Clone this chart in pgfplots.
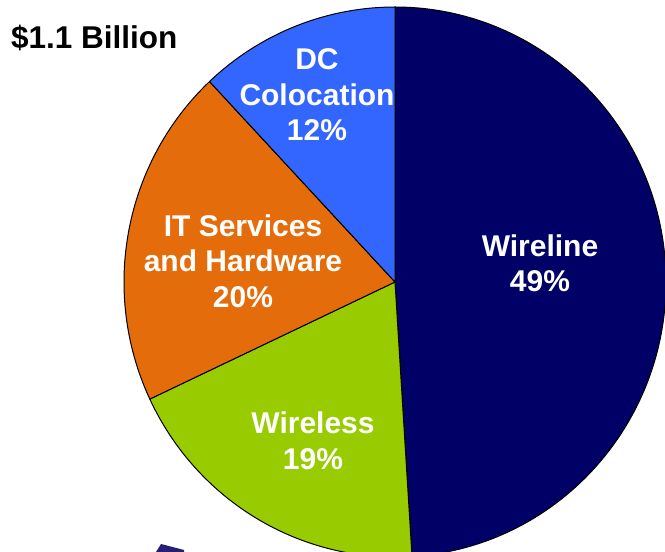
\documentclass[border=0pt]{standalone}
\usepackage{fontspec}
\setmainfont{Liberation Sans}
\usepackage{pgfplots}
\usepackage{pgfplotstable}
\pgfplotsset{compat=1.18}
\definecolor{wireline}{RGB}{0,0,102}
\definecolor{wireless}{RGB}{153,204,0}
\definecolor{itserv}{RGB}{228,108,10}
\definecolor{dccol}{RGB}{51,102,255}
\definecolor{deco}{RGB}{40,30,115}

\pgfplotstableread{
value color
49 wireline
19 wireless
20 itserv
12 dccol
}\piedata

\begin{document}
\begin{tikzpicture}
\useasboundingbox (0,0) rectangle (665pt,552pt);
\begin{axis}[
  at={(0,0)}, anchor=south west,
  width=665pt, height=552pt, scale only axis,
  xmin=0, xmax=665, ymin=0, ymax=552,
  hide axis, clip=true,
]
\addplot[draw=none] coordinates {(0,0) (665,552)};
\def\start{90}
\pgfplotsforeachungrouped \i in {0,...,3} {
  \pgfplotstablegetelem{\i}{value}\of\piedata
  \let\v=\pgfplotsretval
  \pgfplotstablegetelem{\i}{color}\of\piedata
  \let\c=\pgfplotsretval
  \pgfmathsetmacro\endang{\start - 3.6*\v}
  \edef\temp{\noexpand\filldraw[fill=\c, draw=black, line width=1pt, line join=round]
    (axis cs:395,270) -- ++(\start:271pt and 275pt)
    arc[start angle=\start, end angle=\endang, x radius=271pt, y radius=275pt] -- cycle;}
  \temp
  \global\let\start=\endang
}
\fill[deco] (axis cs:156,0) -- (axis cs:161,8) -- (axis cs:184,2) -- (axis cs:184,0) -- cycle;
\begin{scope}[every node/.style={align=center, text=white, inner sep=0pt,
    font=\bfseries\fontsize{30}{35.5}\selectfont}]
\node at (axis cs:540,288.5) {Wireline\\49\%};
\node at (axis cs:313,111) {Wireless\\19\%};
\node at (axis cs:243,291) {IT Services\\and Hardware\\20\%};
\node at (axis cs:317,457) {DC\\Colocation\\12\%};
\end{scope}
\node[anchor=west, inner sep=0pt, font=\bfseries\fontsize{31.5}{36}\selectfont]
  at (axis cs:11,514) {\$1.1 Billion};
\end{axis}
\end{tikzpicture}
\end{document}
